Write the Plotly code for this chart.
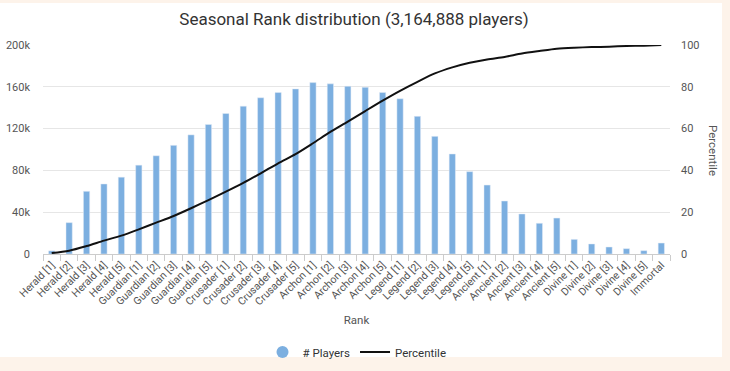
import plotly.graph_objects as go

ranks = ["Herald [1]", "Herald [2]", "Herald [3]", "Herald [4]", "Herald [5]",
         "Guardian [1]", "Guardian [2]", "Guardian [3]", "Guardian [4]", "Guardian [5]",
         "Crusader [1]", "Crusader [2]", "Crusader [3]", "Crusader [4]", "Crusader [5]",
         "Archon [1]", "Archon [2]", "Archon [3]", "Archon [4]", "Archon [5]",
         "Legend [1]", "Legend [2]", "Legend [3]", "Legend [4]", "Legend [5]",
         "Ancient [1]", "Ancient [2]", "Ancient [3]", "Ancient [4]", "Ancient [5]",
         "Divine [1]", "Divine [2]", "Divine [3]", "Divine [4]", "Divine [5]",
         "Immortal"]

players = [3000, 30000, 60000, 67000, 73500,
           85000, 94000, 104000, 114000, 124000,
           134500, 141500, 149500, 154500, 158000,
           164000, 162800, 160500, 159500, 154500,
           148600, 131700, 112600, 95700, 78800,
           66000, 50700, 38300, 29400, 34400,
           14000, 9600, 6700, 5100, 3200,
           10500]

percentile = [0.5, 1.6, 3.8, 6.4, 8.8,
              11.8, 15.0, 18.2, 21.9, 25.8,
              29.8, 34.0, 38.6, 43.4, 47.8,
              53.0, 58.4, 63.3, 68.4, 73.4,
              78.1, 82.4, 86.4, 89.3, 91.5,
              93.1, 94.3, 95.9, 97.1, 98.2,
              98.7, 99.0, 99.2, 99.5, 99.7,
              100.0]

bar_color = "#7cafe0"
font_family = "Roboto, Arial, sans-serif"

fig = go.Figure()
fig.add_trace(go.Bar(x=ranks, y=players, name="# Players", marker_color=bar_color,
                     showlegend=False, yaxis="y"))
fig.add_trace(go.Scatter(x=[None], y=[None], mode="markers", name="# Players",
                         marker=dict(symbol="circle", size=12, color=bar_color)))
fig.add_trace(go.Scatter(x=ranks, y=percentile, name="Percentile", mode="lines",
                         line=dict(color="#111111", width=2, shape="spline", smoothing=0.8),
                         yaxis="y2"))

W, H = 730, 371
L, R, T, B = 43, 60, 45, 117
pw, ph = W - L - R, H - T - B

def px_x(p):
    return (p - L) / pw

def px_y(p):
    return (H - B - p) / ph

fig.update_layout(
    width=W, height=H,
    margin=dict(l=L, r=R, t=T, b=B, autoexpand=False),
    paper_bgcolor="#fdf3ea",
    plot_bgcolor="white",
    font=dict(family=font_family, color="#555555", size=11),
    title=dict(text="Seasonal Rank distribution (3,164,888 players)",
               x=px_x(354), xanchor="center", xref="paper",
               y=1 - 19 / H, yanchor="middle",
               font=dict(size=17, color="#333333", family=font_family)),
    bargap=0.64,
    xaxis=dict(
        type="category", tickangle=-45, tickfont=dict(size=10.5, color="#555555"),
        ticks="outside", tickson="boundaries", ticklen=6, tickcolor="#cccccc",
        showline=True, linecolor="#cccccc", linewidth=1,
        showgrid=False,
        title=dict(text="Rank", font=dict(size=11.5, color="#555555"), standoff=8),
    ),
    yaxis=dict(
        range=[0, 200000], tickvals=[0, 40000, 80000, 120000, 160000, 200000],
        ticktext=["0", "40k", "80k", "120k", "160k", "200k"],
        showgrid=True, gridcolor="#e6e6e6", zeroline=False,
        tickfont=dict(size=11, color="#555555"), ticklabelstandoff=12,
    ),
    yaxis2=dict(
        range=[0, 100], tickvals=[0, 20, 40, 60, 80, 100],
        overlaying="y", side="right", showgrid=False, zeroline=False,
        tickfont=dict(size=11, color="#555555"), ticklabelstandoff=10,
    ),
    legend=dict(orientation="h", x=px_x(357), xanchor="center",
                y=px_y(352), yanchor="middle", itemwidth=30,
                font=dict(size=11.5, color="#333333"), bgcolor="rgba(0,0,0,0)"),
    shapes=[dict(type="rect", xref="paper", yref="paper", layer="below",
                 x0=px_x(-5), x1=px_x(722), y0=px_y(357), y1=px_y(3),
                 fillcolor="white", line=dict(width=0))],
    annotations=[dict(text="Percentile", textangle=90, xref="paper", yref="paper",
                      x=px_x(713), y=px_y(150), showarrow=False,
                      font=dict(size=11.5, color="#555555"),
                      xanchor="center", yanchor="middle")],
)

fig.write_html("out.html", config={"displayModeBar": False})

with open("out.html", "r", encoding="utf-8") as f:
    html = f.read()
html = html.replace("<head>", "<head><style>html,body{margin:0;padding:0;overflow:hidden;}</style>", 1)
with open("out.html", "w", encoding="utf-8") as f:
    f.write(html)
